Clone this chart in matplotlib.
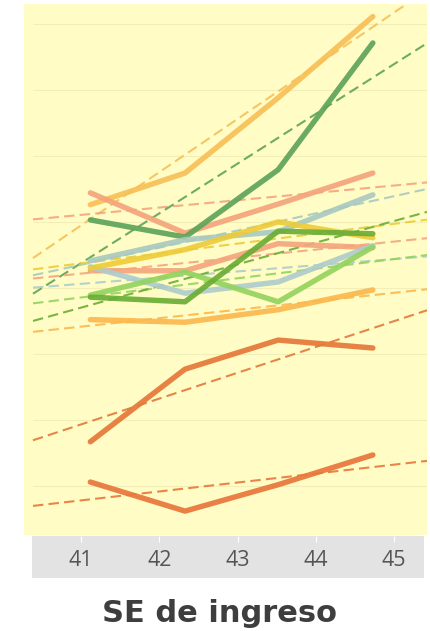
import matplotlib.pyplot as plt
import numpy as np

# weeks (SE) at which each series is sampled
weeks = [41.12, 42.33, 43.52, 44.73]
tick_weeks = [41, 42, 43, 44, 45]

# series values (arbitrary units)
s_orange_top = [52.6, 57.4, 68.8, 81.1]
s_dark_green = [50.3, 47.7, 57.9, 77.1]
s_salmon_top = [54.4, 48.3, 52.7, 57.4]
s_bluegray = [44.1, 47.3, 48.5, 54.1]
s_yellow = [43.0, 45.8, 50.0, 47.6]
s_salmon_low = [42.6, 42.6, 46.7, 46.1]
s_lightblue = [43.2, 39.2, 40.9, 46.4]
s_light_green = [38.9, 42.4, 37.9, 46.2]
s_mid_green = [38.6, 37.9, 48.6, 48.2]
s_orange_low = [35.2, 34.8, 36.7, 39.7]
s_dark_orange = [16.7, 27.7, 32.1, 30.9]
s_dark_orange2 = [10.6, 6.2, 10.2, 14.7]

series = [
    (s_orange_top, "#F8BF58"),
    (s_salmon_top, "#F5A47C"),
    (s_dark_green, "#5DA35A"),
    (s_salmon_low, "#F4A57E"),
    (s_lightblue, "#AFCBCB"),
    (s_bluegray, "#A8C9C0"),
    (s_yellow, "#EDCB3B"),
    (s_light_green, "#93D35F"),
    (s_mid_green, "#6AAD35"),
    (s_orange_low, "#FAB84E"),
    (s_dark_orange, "#E5783A"),
    (s_dark_orange2, "#E8773B"),
]

grid_vals = [10, 20, 30, 40, 50, 60, 70, 80]

fig = plt.figure(figsize=(4.31, 6.31), dpi=100)
ax = fig.add_axes([24 / 431, 96 / 631, 403 / 431, 531 / 631])
ax.set_facecolor("#FFFDC5")
xmin, xmax = 40.272, 45.422
ax.set_xlim(xmin, xmax)
ax.set_ylim(2.58, 83.0)

trend_x = np.array([40.387, xmax])
ax.hlines(grid_vals, trend_x[0], xmax, color="#F1EEB8", lw=0.8, zorder=0)

# trend lines (least squares fit of each series)
for vals, col in series:
    k, b = np.polyfit(weeks, vals, 1)
    ax.plot(trend_x, k * trend_x + b, color=col, lw=1.5, ls=(0, (5, 2.5)),
            alpha=0.9, zorder=1)

for vals, col in series:
    ax.plot(weeks, vals, color=col, lw=3.9, solid_capstyle="round",
            solid_joinstyle="round", alpha=0.92, zorder=2)

for s in ax.spines.values():
    s.set_visible(False)
ax.set_xticks([])
ax.set_yticks([])

# gray band with the week labels
band = fig.add_axes([32 / 431, 53 / 631, 392 / 431, 42 / 631])
band.set_facecolor("#E3E3E3")
band.set_xlim(40.374, 45.383)
band.set_ylim(0, 1)
band.set_xticks(tick_weeks)
band.tick_params(axis="x", direction="in", length=4, color="white",
                 top=True, bottom=False, labeltop=False, labelbottom=False)
band.set_yticks([])
for s in band.spines.values():
    s.set_visible(False)
for w in tick_weeks:
    band.text(w, 0.42, str(w), ha="center", va="center", fontsize=15.5,
              color="#555555", family="Open Sans")

fig.text(220 / 431, 1 - 613 / 631, "SE de ingreso", ha="center", va="center",
         fontsize=22, fontweight="bold", color="#3E3E3E", family="DejaVu Sans")

fig.savefig("out.png", dpi=100, facecolor="white")
